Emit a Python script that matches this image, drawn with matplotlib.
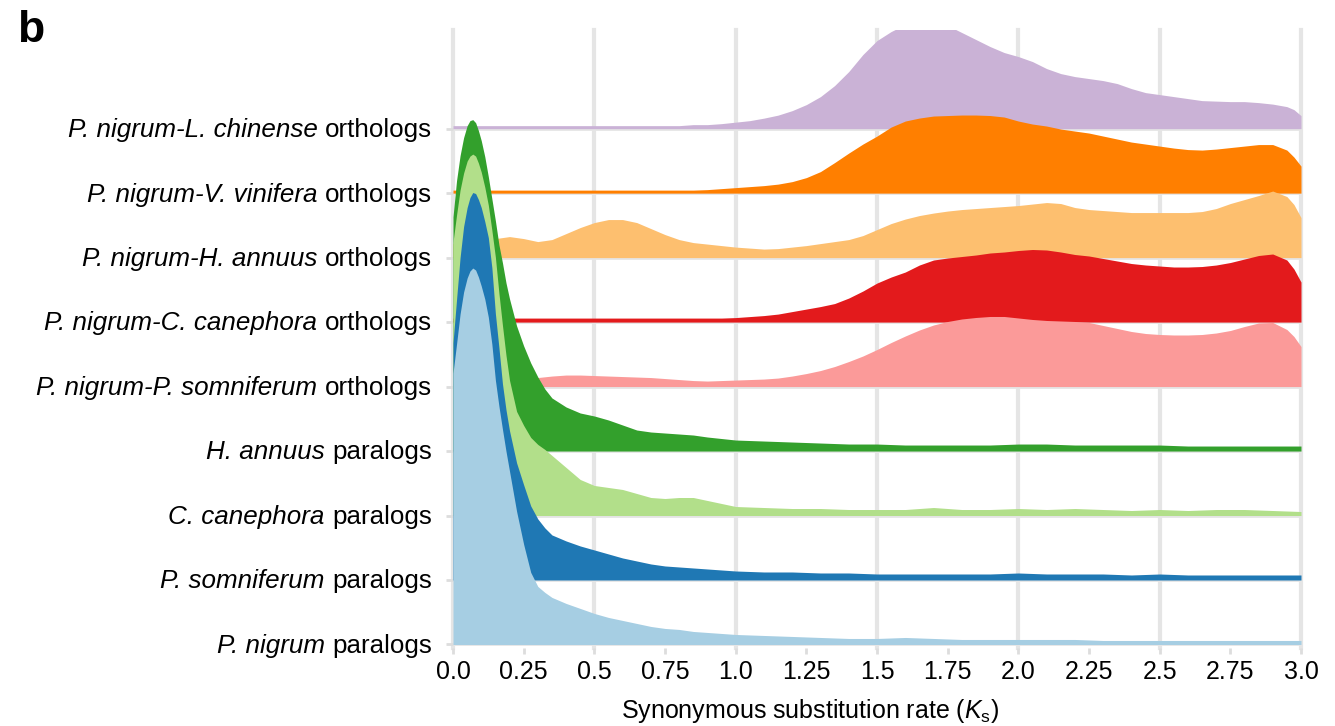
import numpy as np
import matplotlib
matplotlib.use("Agg")
import matplotlib.pyplot as plt
from matplotlib.offsetbox import TextArea, HPacker, AnnotationBbox

plt.rcParams["font.family"] = ["Liberation Sans", "DejaVu Sans"]
plt.rcParams["mathtext.fontset"] = "custom"
plt.rcParams["mathtext.rm"] = "Liberation Sans"
plt.rcParams["mathtext.it"] = "Liberation Sans:italic"

# Ks grid for the paralog ridges (fine around the early peak)
ks_par = [0.0, 0.0125, 0.025, 0.0375, 0.05, 0.06, 0.07, 0.08, 0.09, 0.1,
          0.1125, 0.125, 0.1375, 0.15, 0.1625, 0.175, 0.1875, 0.2, 0.225, 0.25,
          0.275, 0.3, 0.325, 0.35, 0.4, 0.45, 0.5, 0.55, 0.6, 0.65,
          0.7, 0.75, 0.8, 0.85, 0.9, 1.0, 1.1, 1.2, 1.3, 1.4,
          1.5, 1.6, 1.7, 1.8, 1.9, 2.0, 2.1, 2.2, 2.3, 2.4,
          2.5, 2.6, 2.7, 2.8, 2.9, 3.0]

# Ks grid for the ortholog ridges
ks_orth = [0.0, 0.05, 0.1, 0.15, 0.2, 0.25, 0.3, 0.35, 0.4, 0.45,
           0.5, 0.55, 0.6, 0.65, 0.7, 0.75, 0.8, 0.85, 0.9, 0.95,
           1.0, 1.05, 1.1, 1.15, 1.2, 1.25, 1.3, 1.35, 1.4, 1.45,
           1.5, 1.55, 1.6, 1.65, 1.7, 1.75, 1.8, 1.85, 1.9, 1.95,
           2.0, 2.05, 2.1, 2.15, 2.2, 2.25, 2.3, 2.35, 2.4, 2.45,
           2.5, 2.55, 2.6, 2.65, 2.7, 2.75, 2.8, 2.85, 2.9, 2.95,
           2.975, 3.0]

# ridge heights (one row step = 64.4)
nigrum_par = [271, 300, 330, 352, 366, 373, 376, 374, 367, 358,
              345, 327, 300, 264, 238, 215, 193, 173, 133, 100,
              72, 58, 52, 47, 41, 36, 31, 27, 24, 21,
              18, 16, 15, 13, 12, 10, 9, 8, 7, 6,
              6, 7, 6, 5, 5, 5, 5, 5, 4, 4,
              4, 4, 4, 4, 4, 4]
somniferum_par = [237, 280, 322, 353, 372, 382, 387, 386, 380, 372,
                  358, 342, 312, 266, 232, 196, 170, 149, 117, 95,
                  74, 61, 52, 45, 39, 34, 30, 26, 22, 19,
                  16, 14, 13, 12, 11, 9, 8, 8, 7, 7,
                  6, 6, 6, 6, 6, 7, 6, 6, 6, 5,
                  6, 5, 5, 5, 5, 5]
canephora_par = [273, 300, 325, 342, 354, 359, 361, 359, 352, 343,
                 328, 310, 285, 258, 222, 190, 160, 135, 104, 90,
                 78, 71, 66, 60, 48, 36, 30, 28, 26, 22,
                 18, 17, 18, 18, 15, 9, 8, 7, 7, 6,
                 6, 6, 8, 6, 6, 7, 6, 7, 6, 5,
                 6, 5, 6, 6, 5, 4]
annuus_par = [234, 270, 295, 313, 325, 330, 331, 328, 320, 310,
              294, 274, 252, 230, 206, 188, 168, 152, 125, 105,
              88, 74, 62, 53, 44, 38, 35, 31, 26, 21,
              19, 18, 17, 16, 14, 11, 10, 9, 8, 7,
              7, 6, 6, 6, 6, 7, 7, 6, 6, 6,
              6, 5, 5, 5, 5, 5]

somniferum_orth = [3, 3, 4, 5, 6, 7, 9, 10.5, 11.5, 11.5,
                   11, 10.5, 10, 9.5, 9, 8, 7, 6, 5.5, 6,
                   6.5, 7, 7.5, 8.5, 10.5, 13, 16, 20, 25, 30.5,
                   37, 44, 50.5, 56.5, 61.5, 65, 67.5, 69, 70, 70,
                   68.5, 67, 66, 65.5, 65, 64, 61, 58, 55, 53,
                   52, 51.5, 51.5, 52, 53.5, 56, 60, 63.5, 64, 57,
                   50, 40]
canephora_orth = [4, 4, 4, 4, 4, 4, 4, 4, 4, 4,
                  4, 4, 4, 4, 4, 4, 4, 4, 4, 4,
                  4.5, 5.5, 6.5, 8, 10.5, 13, 15.5, 18.5, 24, 31,
                  39, 45, 50, 57, 62, 64, 65.5, 67, 69, 70,
                  71.5, 72.5, 72, 70, 67.5, 66, 63.5, 61, 58.5, 57,
                  56, 55, 55, 55.5, 57, 59.5, 63, 66.5, 68, 62,
                  53, 40]
annuus_orth = [14, 16, 18, 19, 21, 19, 16, 18, 24, 30,
               35, 38, 38, 35, 29, 23, 18, 15, 13.5, 12,
               10.5, 9.5, 8.5, 9, 10.5, 12, 14, 16, 18, 22,
               28, 34, 38.5, 42, 44.5, 46.5, 48, 49, 50, 51,
               52, 53.5, 55, 54, 50, 48, 47, 46, 45, 45,
               45, 45, 45, 46, 49, 54, 58, 62, 66.5, 61,
               53, 40]
vinifera_orth = [3, 3, 3, 3, 3, 3, 3, 3, 3, 3,
                 3, 3, 3, 3, 3, 3, 3, 3, 3.5, 4.5,
                 5.5, 6.5, 7.5, 9, 11.5, 15.5, 21.5, 30.5, 40, 49,
                 57, 66, 72, 75, 77, 77.5, 78, 78, 77.5, 76,
                 72, 69, 67, 64, 62, 60, 57, 54, 51, 49,
                 47, 45, 43.5, 43, 44, 45.5, 47, 48.5, 48.5, 43,
                 36, 27]
chinense_orth = [3, 3, 3, 3, 3, 3, 3, 3, 3, 3,
                 3, 3, 3, 3, 3, 3, 3, 4, 4, 5,
                 6.5, 8, 10.5, 13.5, 18, 24, 32, 43, 57, 74,
                 88, 97, 104, 108, 108, 103, 96, 89, 82, 76,
                 72, 67, 60, 55, 52, 50, 48, 45, 40, 36,
                 34, 32, 30, 28, 27.5, 27, 27, 26, 24.5, 22,
                 19, 13]

# bottom row first
ridges = [nigrum_par, somniferum_par, canephora_par, annuus_par,
          somniferum_orth, canephora_orth, annuus_orth, vinifera_orth, chinense_orth]
ridge_ks = [ks_par] * 4 + [ks_orth] * 5
colors = ["#a6cee3", "#1f78b4", "#b2df8a", "#33a02c",
          "#fb9a99", "#e31a1c", "#fdbf6f", "#ff7f00", "#cab2d6"]
label_species = ["P. nigrum", "P. somniferum", "C. canephora", "H. annuus",
                 "P. nigrum-P. somniferum", "P. nigrum-C. canephora",
                 "P. nigrum-H. annuus", "P. nigrum-V. vinifera", "P. nigrum-L. chinense"]
label_kind = ["paralogs"] * 4 + ["orthologs"] * 5
x_ticks = [0.0, 0.25, 0.5, 0.75, 1.0, 1.25, 1.5, 1.75, 2.0, 2.25, 2.5, 2.75, 3.0]
x_ticklabels = ["0.0", "0.25", "0.5", "0.75", "1.0", "1.25", "1.5", "1.75",
                "2.0", "2.25", "2.5", "2.75", "3.0"]

ridge_scale = 64.4
W, H = 1335, 726

fig = plt.figure(figsize=(W / 100, H / 100), dpi=100)
ax = fig.add_axes([453 / W, 1 - 647.7 / H, (1301 - 453) / W, 617.7 / H])

# grid behind everything
for gx in np.arange(0, 3.01, 0.5):
    ax.axvline(gx, color="#e5e5e5", lw=3, zorder=0, clip_on=False)
for i in range(len(ridges)):
    ax.axhline(i, color="#e5e5e5", lw=2, zorder=0)

# top row drawn first so lower ridges overlap it
for i in reversed(range(len(ridges))):
    h = np.array(ridges[i]) / ridge_scale
    ax.fill_between(ridge_ks[i], i, i + h, color=colors[i], lw=0,
                    zorder=10 + (len(ridges) - i))

ax.set_xlim(0, 3)
ax.set_ylim(-0.05, 9.53)
ax.set_xticks(x_ticks)
ax.set_xticklabels(x_ticklabels, fontsize=18)
ax.set_yticks(range(len(ridges)))
ax.set_yticklabels([])
ax.tick_params(axis="x", color="#dddddd", length=4, width=2, pad=5)
ax.tick_params(axis="y", color="#dddddd", length=5, width=2)
for s in ax.spines.values():
    s.set_visible(False)

# row labels: italic species name + upright kind
for i in range(len(ridges)):
    part1 = TextArea(label_species[i], textprops=dict(fontsize=18.7, style="italic"))
    part2 = TextArea(label_kind[i], textprops=dict(fontsize=18.7))
    box = HPacker(children=[part1, part2], align="baseline", pad=0, sep=5.5)
    ab = AnnotationBbox(box, (0, i), xycoords=("axes fraction", "data"),
                        xybox=(-15, -1), boxcoords="offset points",
                        box_alignment=(1, 0.5), frameon=False, pad=0,
                        annotation_clip=False)
    ax.add_artist(ab)

fig.text(810 / W, 1 - 711 / H, r"Synonymous substitution rate ($\mathit{K}_\mathrm{s}$)",
         fontsize=18, ha="center", va="center")
fig.text(17 / W, 1 - 10 / H, "b", fontsize=32, fontweight="bold", va="top", ha="left")

fig.savefig("out.png", dpi=100)
